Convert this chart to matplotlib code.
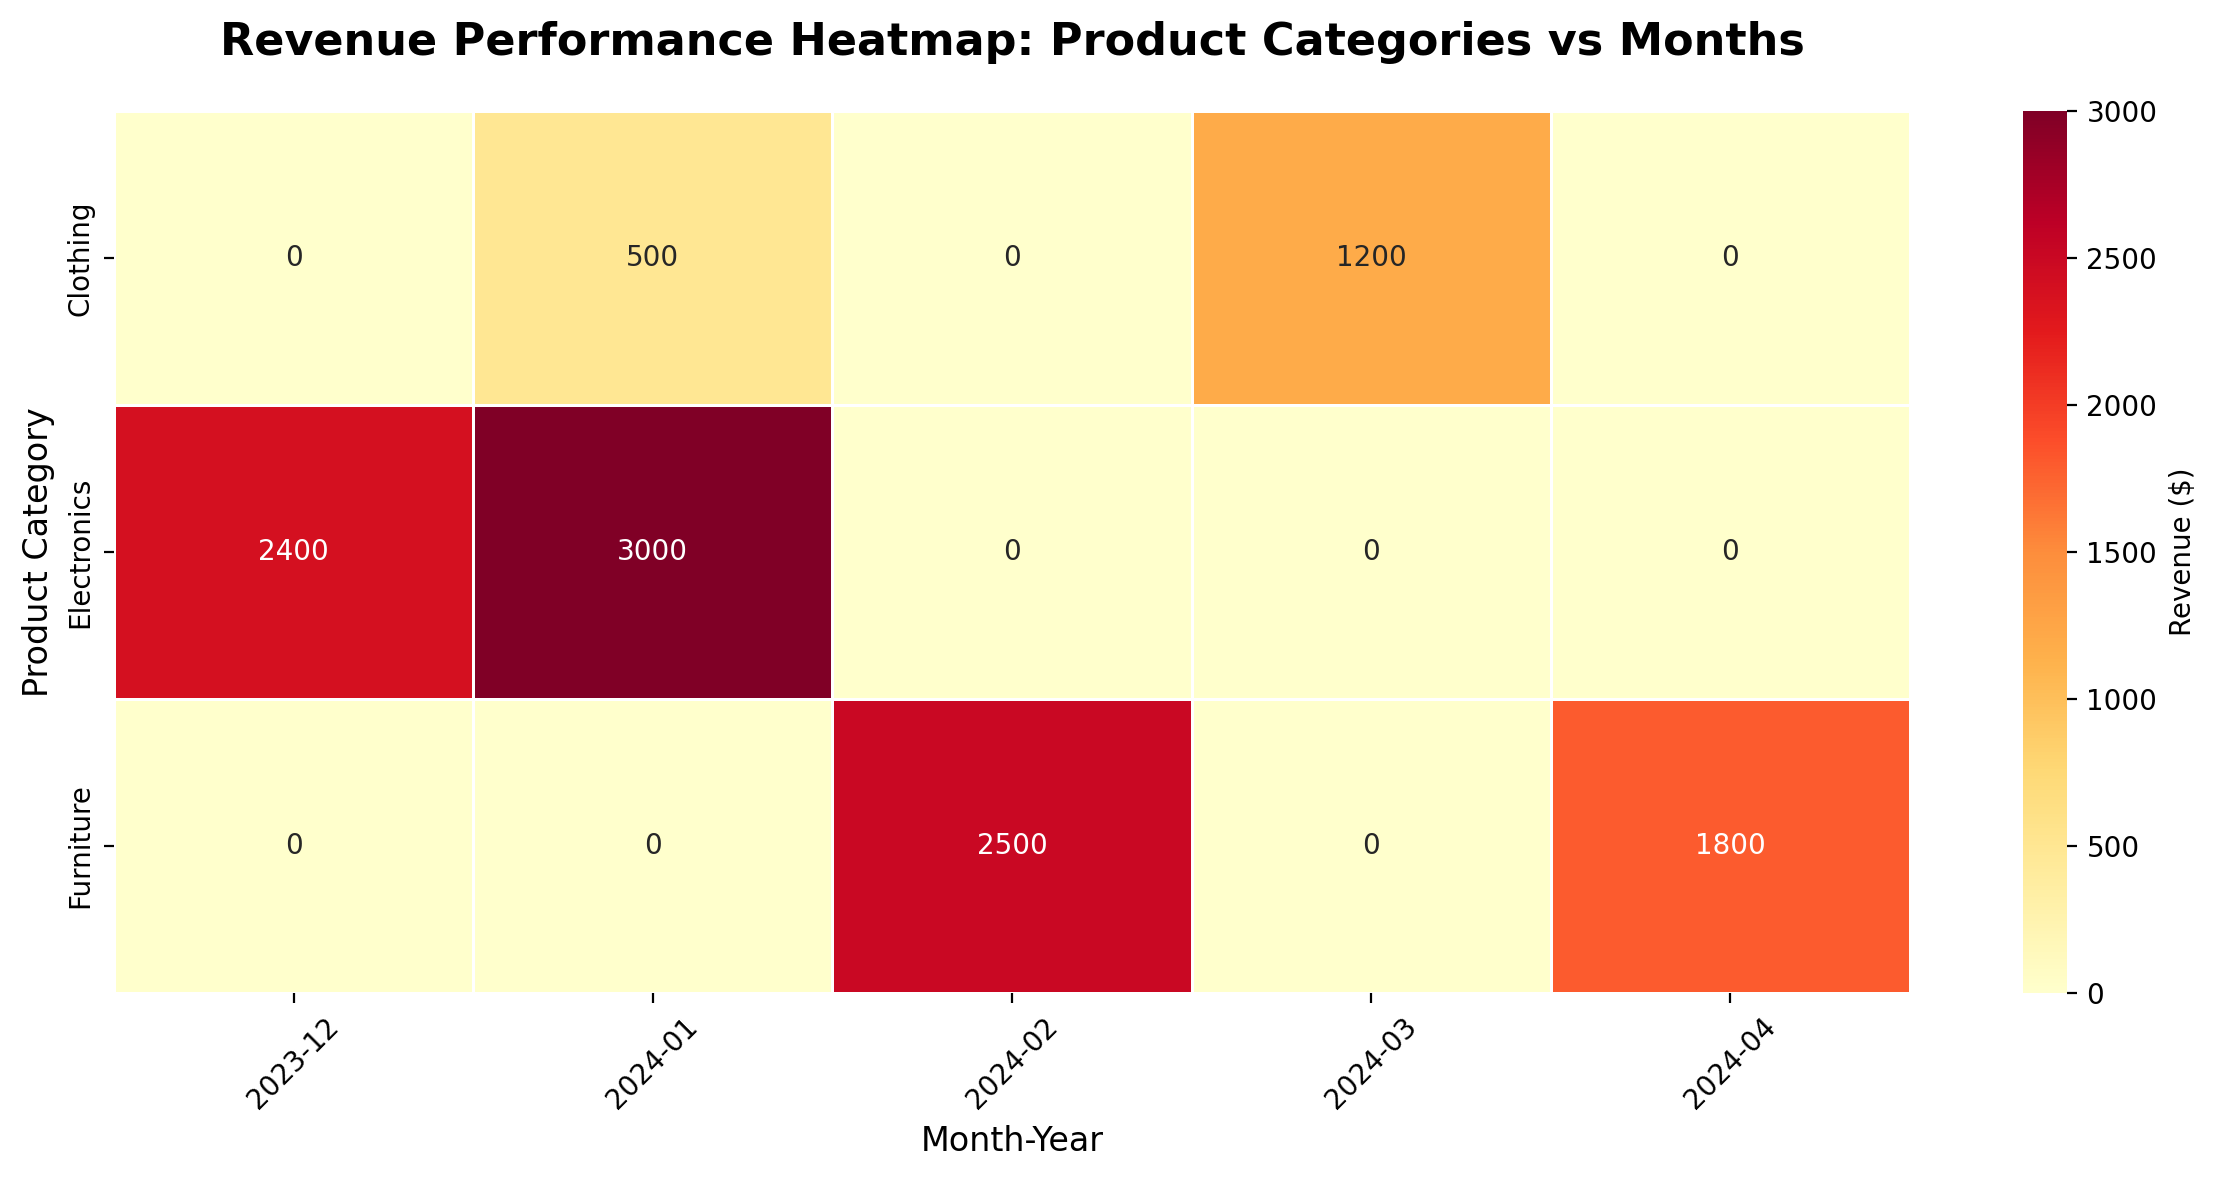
import matplotlib
matplotlib.use("Agg")
import matplotlib.pyplot as plt
import seaborn as sns
import pandas as pd
import numpy as np

categories = ["Clothing", "Electronics", "Furniture"]
months = ["2023-12", "2024-01", "2024-02", "2024-03", "2024-04"]
clothing = [0, 500, 0, 1200, 0]
electronics = [2400, 3000, 0, 0, 0]
furniture = [0, 0, 2500, 0, 1800]

df = pd.DataFrame([clothing, electronics, furniture], index=categories, columns=months)

W, H = 2216, 1179
fig = plt.figure(figsize=(W/200, H/200), dpi=200)
ax = fig.add_axes([114/W, 1-993/H, (1910-114)/W, (993-111)/H])
cax = fig.add_axes([2023/W, 1-993/H, 44/W, (993-111)/H])
sns.heatmap(df, annot=True, fmt="d", cmap="YlOrRd", linewidths=1, linecolor="white",
            ax=ax, cbar_ax=cax, cbar_kws={"label": "Revenue ($)"})
ax.set_title("Revenue Performance Heatmap: Product Categories vs Months",
             fontsize=16, fontweight="bold", pad=20)
ax.set_xlabel("Month-Year", fontsize=12)
ax.set_ylabel("Product Category", fontsize=12)
plt.setp(ax.get_xticklabels(), rotation=45)
fig.savefig("out.png", dpi=200)
